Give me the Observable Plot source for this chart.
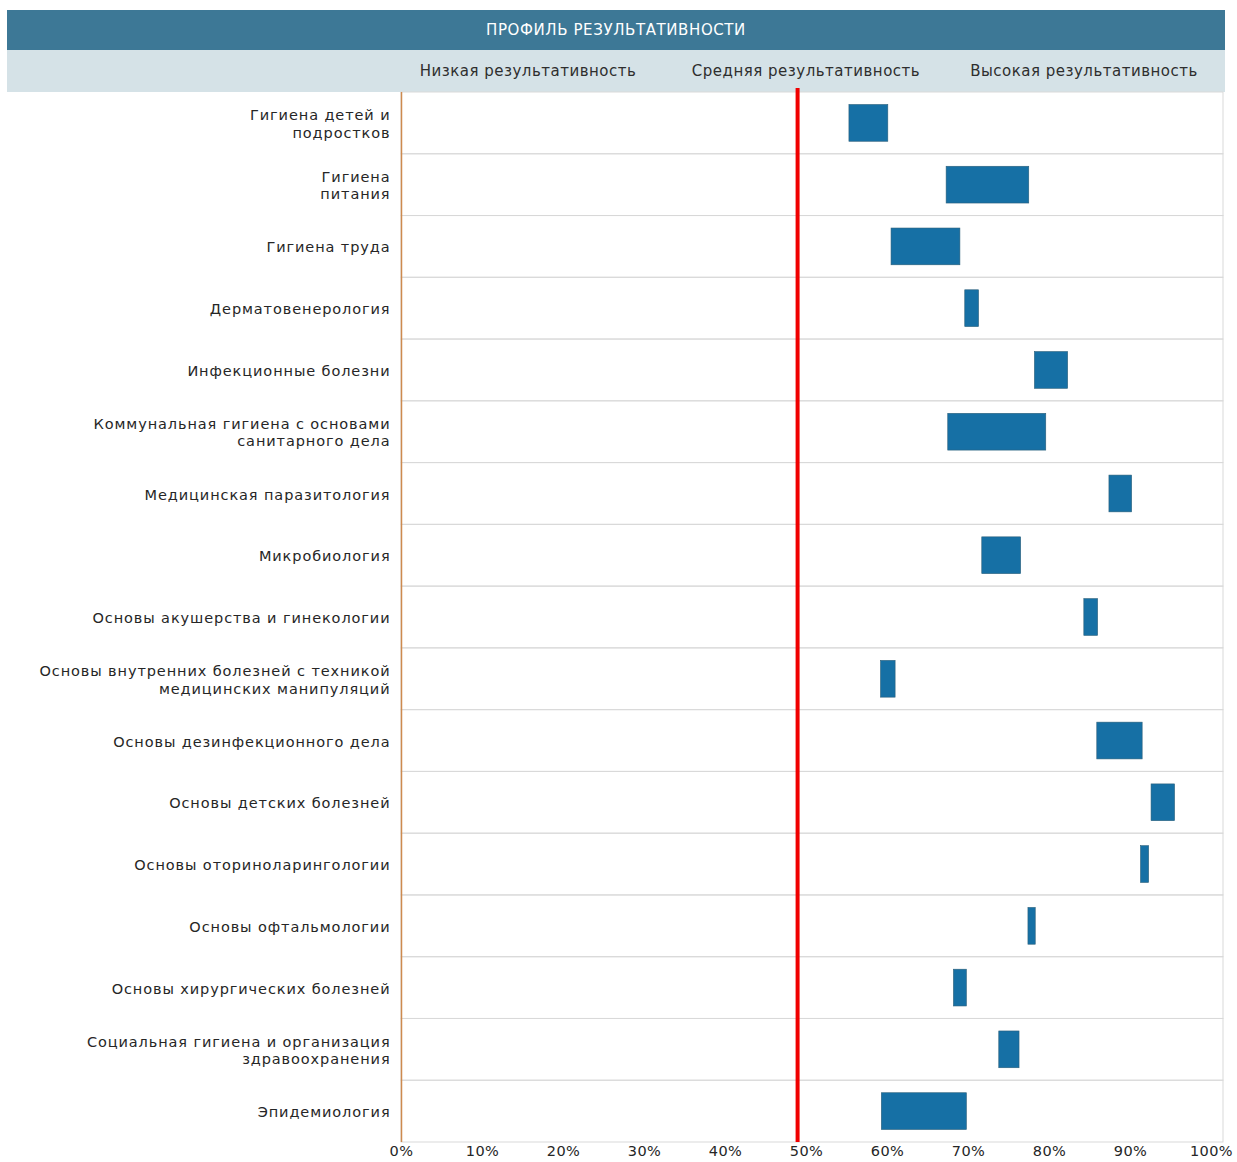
<!DOCTYPE html>
<html>
<head>
<meta charset="utf-8">
<script src="https://cdn.jsdelivr.net/npm/d3@7"></script>
<script src="https://cdn.jsdelivr.net/npm/@observablehq/plot@0.6"></script>
<style>
  html, body { margin: 0; padding: 0; background: #fff; }
  #wrap { position: relative; width: 1237px; height: 1162px; font-family: "DejaVu Sans", Verdana, sans-serif; }
  #title { position: absolute; left: 7px; top: 10px; width: 1218px; height: 40px; background: #3d7896;
           color: #fff; font-size: 15px; line-height: 40px; text-align: center; letter-spacing: 0.6px; }
  #sub { position: absolute; left: 7px; top: 50px; width: 1218px; height: 42px; background: #d5e2e7; }
  .zone { position: absolute; top: 0; height: 42px; line-height: 42px; font-size: 15px; color: #2e2e2e;
          letter-spacing: 0.5px; transform: translateX(-50%); white-space: nowrap; }
  #chart { position: absolute; left: 0; top: 92px; }
  #chart g[aria-label="y-axis tick label"] text { letter-spacing: 0.9px; }
  #chart g[aria-label="x-axis tick label"] text { letter-spacing: 0.4px; }
</style>
</head>
<body>
<div id="wrap">
  <div id="title"></div>
  <div id="sub"></div>
  <div id="chart"></div>
</div>
<script>
const title = "ПРОФИЛЬ РЕЗУЛЬТАТИВНОСТИ";
const zones = ["Низкая результативность", "Средняя результативность", "Высокая результативность"];
const zoneCenters = [528, 806, 1084]; // pixel centres of zone headings

const categories = [
  "Гигиена детей и\nподростков",
  "Гигиена\nпитания",
  "Гигиена труда",
  "Дерматовенерология",
  "Инфекционные болезни",
  "Коммунальная гигиена с основами\nсанитарного дела",
  "Медицинская паразитология",
  "Микробиология",
  "Основы акушерства и гинекологии",
  "Основы внутренних болезней с техникой\nмедицинских манипуляций",
  "Основы дезинфекционного дела",
  "Основы детских болезней",
  "Основы оториноларингологии",
  "Основы офтальмологии",
  "Основы хирургических болезней",
  "Социальная гигиена и организация\nздравоохранения",
  "Эпидемиология"
];
const lowValues  = [55.3, 67.3, 60.5, 69.6, 78.2, 67.5, 87.4, 71.7, 84.3, 59.2, 85.9, 92.6, 91.3, 77.4, 68.2, 73.8, 59.3];
const highValues = [60.1, 77.5, 69.0, 71.3, 82.3, 79.6, 90.2, 76.5, 86.0, 61.0, 91.5, 95.5, 92.3, 78.3, 69.8, 76.3, 69.8];
const thresholdValue = 48.9;
const xTicks = [0, 10, 20, 30, 40, 50, 60, 70, 80, 90, 100];

document.getElementById("title").textContent = title;
const sub = document.getElementById("sub");
zones.forEach((z, i) => {
  const d = document.createElement("div");
  d.className = "zone";
  d.textContent = z;
  d.style.left = (zoneCenters[i] - 7) + "px";
  sub.appendChild(d);
});

const data = categories.map((c, i) => ({name: c, lo: lowValues[i], hi: highValues[i]}));

const chart = Plot.plot({
  width: 1237,
  height: 1070,
  marginLeft: 401,
  marginRight: 14,
  marginTop: 0,
  marginBottom: 20,
  style: {fontFamily: "'DejaVu Sans', Verdana, sans-serif", fontSize: "14.5px", color: "#262626", background: "transparent", overflow: "visible"},
  x: {domain: [0, 100], range: [401, 1211], label: null},
  y: {domain: categories, padding: 0, round: false, label: null},
  marks: [
    Plot.cell(categories, {y: d => d, fill: "none", stroke: "#d9d9d9", strokeWidth: 1}),
    Plot.barX(data, {y: "name", x1: "lo", x2: "hi", fill: "#1670a5", stroke: "#2b5f7a", strokeWidth: 0.6, insetTop: 12.5, insetBottom: 12.5}),
    Plot.ruleX([0], {stroke: "#cd8a4f", strokeWidth: 1.5}),
    Plot.ruleX([thresholdValue], {stroke: "#f00000", strokeWidth: 4, insetTop: -4}),
    Plot.axisY({tickSize: 0, tickPadding: 11, fontSize: 14.5, lineHeight: 1.2}),
    Plot.axisX({ticks: xTicks, tickFormat: d => d + "%", tickSize: 0, tickPadding: 3, fontSize: 14.5})
  ]
});
document.getElementById("chart").appendChild(chart);
</script>
</body>
</html>
